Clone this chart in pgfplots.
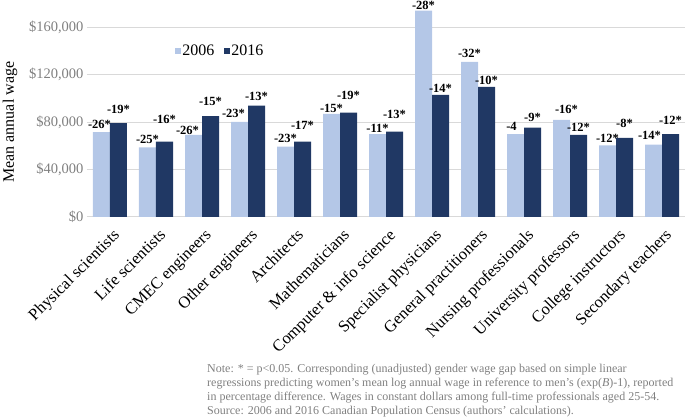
\documentclass[border=0pt]{standalone}
\usepackage{pgfplots}
\usepackage{pgfplotstable}
\pgfplotsset{compat=1.18}
\usepackage{fontspec}
\setmainfont{Liberation Serif}
\definecolor{cA}{HTML}{B4C7E7}
\definecolor{cB}{HTML}{203864}
\definecolor{gridc}{HTML}{D9D9D9}
\definecolor{tickc}{HTML}{808080}
\definecolor{notec}{HTML}{808080}

\pgfplotstableread{
x y lab dx dy
0 71500 -26* -2 0
1 58800 -25* 0 0
2 69200 -26* -6 -3
3 80200 -23* -6 1
4 59300 -23* 0 0
5 86900 -15* 0 -2
6 69800 -11* 0 -2
7 174100 -28* 0 -3
8 130800 -32* 0 1
9 69800 -4 -4 0
10 81900 -16* 5 3
11 60500 -12* 0 -1
12 61000 -14* -4 1
}\dataA

\pgfplotstableread{
x y lab dx dy
0 79100 -19* 0 6
1 63600 -16* 0 14
2 85000 -15* 0 7
3 93900 -13* 0 1
4 63600 -17* 0 8
5 88000 -19* 0 9
6 72000 -13* 0 9
7 103000 -14* 0 -1
8 109700 -10* 0 -1
9 75400 -9* 0 2
10 69200 -12* 0 0
11 66700 -8* 0 7
12 69800 -12* 0 6
}\dataB

\begin{document}
\begin{tikzpicture}
\begin{axis}[
  at={(0pt,0pt)}, anchor=south west,
  scale only axis, width=598pt, height=217pt,
  xmin=-0.5, xmax=12.5, ymin=0, ymax=183000,
  ybar=0pt, bar width=17pt,
  clip=false,
  axis x line*=bottom, axis y line*=left,
  x axis line style={gridc, line width=1pt},
  y axis line style={draw=none},
  major tick length=0pt,
  ymajorgrids, grid style={gridc, line width=1pt},
  ytick={0,40000,80000,120000,160000},
  yticklabels={{\$0\hspace{10pt}},{\$40,000},{\$80,000},{\$120,000},{\$160,000}},
  yticklabel style={font=\fontsize{14.5}{14.5}\selectfont, text=tickc},
  xtick={0,...,12},
  xticklabels={Physical scientists,Life scientists,CMEC engineers,Other engineers,Architects,Mathematicians,Computer \& info science,Specialist physicians,General practitioners,Nursing professionals,University professors,College instructors,Secondary teachers},
  xticklabel style={font=\fontsize{16.5}{16.5}\selectfont, rotate=45, anchor=north east, inner sep=1pt, xshift=-5pt, yshift=-8pt},
  ylabel={Mean annual wage},
  ylabel style={at={(rel axis cs:0,0.437)}, anchor=center, yshift=77pt, font=\fontsize{16}{16}\selectfont},
  point meta=explicit symbolic,
  nodes near coords,
  nodes near coords style={font=\bfseries\fontsize{12.5}{12.5}\selectfont, text=black, anchor=south, inner sep=3.5pt},
  legend image code/.code={\fill[#1] (0pt,-3pt) rectangle (6pt,3pt);},
  legend style={at={(axis description cs:0.222,0.765)}, anchor=center, draw=none, fill=none,
    legend columns=2, font=\fontsize{16}{16}\selectfont,
    nodes={inner sep=1.5pt},
    /tikz/every even column/.append style={column sep=8pt}},
]
\addplot[fill=cA, draw=none,
  visualization depends on={\thisrow{dx} \as \dx},
  visualization depends on={\thisrow{dy} \as \dy},
  nodes near coords style={xshift=\dx pt, yshift=\dy pt}]
  table[x=x, y=y, meta=lab] {\dataA};
\addplot[fill=cB, draw=none,
  visualization depends on={\thisrow{dx} \as \dx},
  visualization depends on={\thisrow{dy} \as \dy},
  nodes near coords style={xshift=\dx pt, yshift=\dy pt}]
  table[x=x, y=y, meta=lab] {\dataB};
\legend{2006,2016}
\end{axis}
\node[anchor=north west, align=left, inner sep=0pt, text=notec,
  font=\fontsize{12}{14}\selectfont] at (120pt,-147pt)
  {Note: * = p\textless 0.05. Corresponding (unadjusted) gender wage gap based on simple linear\\
   regressions predicting women's mean log annual wage in reference to men's (exp(\textit{B})-1), reported\\
   in percentage difference. Wages in constant dollars among full-time professionals aged 25-54.\\
   Source: 2006 and 2016 Canadian Population Census (authors' calculations).};
\pgfresetboundingbox
\path[use as bounding box] (-87pt,-200pt) rectangle (598pt,217pt);
\end{tikzpicture}
\end{document}
